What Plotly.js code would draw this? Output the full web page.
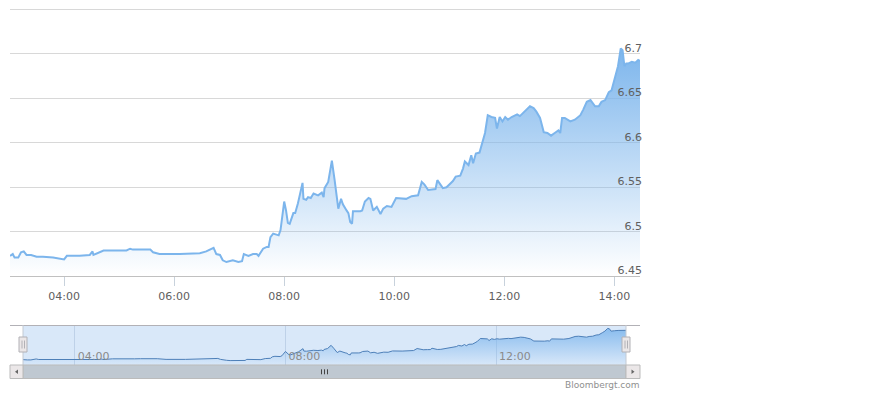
<!DOCTYPE html>
<html>
<head>
<meta charset="utf-8">
<script src="https://cdn.plot.ly/plotly-3.0.1.min.js"></script>
<style>html,body{margin:0;padding:0;background:#fff;}#chart{width:880px;height:393px;}</style>
</head>
<body>
<div id="chart"></div>
<script>
const day = '2019-05-10';
const times = [
'03:01','03:04','03:06','03:10','03:13','03:16','03:19','03:24','03:30','03:37',
'03:48','03:57','04:00','04:03','04:17','04:28','04:31','04:32','04:39','04:43',
'05:08','05:12','05:15','05:34','05:37','05:44','06:06','06:28','06:35','06:43',
'06:46','06:50','06:53','06:57','07:04','07:10','07:14','07:16','07:21','07:26',
'07:30','07:32','07:37','07:41','07:43','07:45','07:48','07:54','07:56','08:00',
'08:02','08:04','08:06','08:10','08:12','08:15','08:20','08:21','08:24','08:26',
'08:29','08:32','08:37','08:41','08:43','08:44','08:48','08:52','08:55','08:59',
'09:02','09:04','09:08','09:10','09:12','09:14','09:15','09:23','09:25','09:28',
'09:32','09:34','09:37','09:41','09:45','09:48','09:52','09:57','10:02','10:13',
'10:19','10:26','10:30','10:33','10:37','10:42','10:45','10:47','10:50','10:53',
'10:57','11:01','11:04','11:07','11:12','11:15','11:17','11:21','11:24','11:26',
'11:29','11:33','11:36','11:39','11:42','11:46','11:50','11:52','11:55','11:58',
'12:01','12:04','12:08','12:14','12:17','12:21','12:24','12:28','12:32','12:35',
'12:39','12:43','12:47','12:51','12:55','12:59','13:01','13:03','13:06','13:12',
'13:17','13:23','13:26','13:30','13:34','13:39','13:43','13:46','13:50','13:54',
'13:57','14:01','14:04','14:07','14:09','14:11','14:13','14:15','14:19','14:23',
'14:26','14:28'
];
const values = [
6.473,6.475,6.471,6.471,6.477,6.478,6.474,6.474,6.472,6.472,
6.471,6.470,6.469,6.473,6.473,6.474,6.478,6.474,6.477,6.479,
6.479,6.481,6.480,6.480,6.477,6.475,6.475,6.476,6.478,6.482,
6.475,6.474,6.468,6.466,6.468,6.466,6.467,6.475,6.473,6.475,
6.475,6.473,6.481,6.483,6.483,6.494,6.498,6.496,6.502,6.534,
6.524,6.510,6.509,6.521,6.521,6.532,6.555,6.537,6.536,6.539,
6.538,6.543,6.541,6.544,6.539,6.549,6.556,6.580,6.558,6.526,
6.537,6.531,6.524,6.521,6.511,6.509,6.523,6.523,6.524,6.534,
6.538,6.537,6.524,6.528,6.520,6.526,6.529,6.528,6.538,6.537,
6.540,6.541,6.556,6.553,6.547,6.548,6.548,6.558,6.553,6.549,
6.550,6.554,6.557,6.562,6.563,6.571,6.579,6.575,6.586,6.577,
6.588,6.589,6.599,6.611,6.631,6.629,6.628,6.616,6.629,6.624,
6.629,6.626,6.629,6.632,6.630,6.634,6.637,6.641,6.639,6.635,
6.628,6.612,6.611,6.608,6.611,6.614,6.611,6.628,6.628,6.624,
6.626,6.631,6.637,6.646,6.648,6.641,6.641,6.646,6.648,6.657,
6.659,6.674,6.686,6.706,6.704,6.686,6.689,6.689,6.691,6.690,
6.693,6.692
];
const yTickVals = [6.45, 6.5, 6.55, 6.6, 6.65, 6.7];
const yTickText = ['6.45', '6.5', '6.55', '6.6', '6.65', '6.7'];
const navTickFormat = '%H:%M';
const creditText = 'Bloombergt.com';

const X = times.map(t => day + ' ' + t);
const W = 880, H = 393;
const px = v => v / W;
const py = v => 1 - v / H;
const yMin = 6.45, yMax = 6.75;
const vMax = Math.max(...values);
const navRange = [6.433, 6.728];

const mainTrace = {
  x: X, y: values, type: 'scatter', mode: 'lines',
  line: {color: '#7cb5ec', width: 2},
  fill: 'tozeroy',
  fillgradient: {type: 'vertical', start: yMin, stop: vMax,
    colorscale: [[0, 'rgba(124,181,236,0)'], [1, 'rgba(124,181,236,1)']]},
  hoverinfo: 'skip', xaxis: 'x', yaxis: 'y'
};
const navTrace = {
  x: X, y: values, type: 'scatter', mode: 'lines',
  line: {color: '#4d7fb8', width: 1},
  fill: 'tozeroy',
  fillgradient: {type: 'vertical', start: navRange[0], stop: vMax,
    colorscale: [[0, 'rgba(124,181,236,0)'], [1, 'rgba(124,181,236,0.85)']]},
  hoverinfo: 'skip', xaxis: 'x2', yaxis: 'y2'
};

function rect(x0, y0, x1, y1, fill, lc, layer) {
  return {type: 'rect', xref: 'paper', yref: 'paper', x0: px(x0), x1: px(x1), y0: py(y1), y1: py(y0),
    fillcolor: fill, line: {color: lc || fill, width: lc ? 1 : 0}, layer: layer || 'above'};
}
function line(x0, y0, x1, y1, c, w, layer) {
  return {type: 'line', xref: 'paper', yref: 'paper', x0: px(x0), x1: px(x1), y0: py(y0), y1: py(y1),
    line: {color: c, width: w || 1}, layer: layer || 'above'};
}
function tri(pts, c) {
  const d = 'M' + pts.map(p => px(p[0]) + ',' + py(p[1])).join('L') + 'Z';
  return {type: 'path', xref: 'paper', yref: 'paper', path: d, fillcolor: c, line: {color: c, width: 0}, layer: 'above'};
}

const shapes = [
  line(10, 9.5, 640, 9.5, '#d8d8d8', 1, 'below'),
  rect(23, 325, 626, 365, 'rgba(128,179,236,0.3)', null, 'below'),
  line(10, 325.5, 640, 325.5, '#b2b1b6'),
  line(23, 325, 23, 365, '#c4cad3'),
  line(626, 325, 626, 365, '#c4cad3'),
  // scrollbar
  rect(10, 365, 640, 378.5, '#eeeeee'),
  rect(23, 365, 626, 378.5, '#bfc8d1', '#bbbbbb'),
  rect(10, 365, 23, 378.5, '#ebe7e8', '#bbbbbb'),
  rect(626, 365, 640, 378.5, '#ebe7e8', '#bbbbbb'),
  tri([[15, 371.7], [18, 369.5], [18, 373.9]], '#666666'),
  tri([[634.5, 371.7], [631.5, 369.5], [631.5, 373.9]], '#666666'),
  line(321.5, 369.3, 321.5, 374.3, '#444444'),
  line(324.5, 369.3, 324.5, 374.3, '#444444'),
  line(327.5, 369.3, 327.5, 374.3, '#444444'),
  // handles
  rect(19, 337, 27, 352, '#ebe7e8', '#b2b1b6'),
  line(22, 340.5, 22, 348.5, '#b2b1b6'),
  line(24.5, 340.5, 24.5, 348.5, '#b2b1b6'),
  rect(622, 337, 630, 352, '#ebe7e8', '#b2b1b6'),
  line(625, 340.5, 625, 348.5, '#b2b1b6'),
  line(627.5, 340.5, 627.5, 348.5, '#b2b1b6')
];

const layout = {
  width: W, height: H,
  margin: {l: 0, r: 0, t: 0, b: 0},
  paper_bgcolor: '#ffffff', plot_bgcolor: 'rgba(0,0,0,0)',
  showlegend: false,
  font: {family: 'DejaVu Sans', size: 11, color: '#606060'},
  xaxis: {
    type: 'date', domain: [px(10), px(640)], anchor: 'y',
    range: [X[0], X[X.length - 1]],
    tick0: day + ' 00:00', dtick: 7200000, tickformat: '%H:%M',
    ticks: 'outside', ticklen: 9, tickcolor: '#c8d2dc', tickwidth: 1,
    showgrid: false, zeroline: false,
    showline: true, linecolor: '#c0c0c0', linewidth: 1,
    tickfont: {family: 'DejaVu Sans', size: 11, color: '#606060'},
    fixedrange: true
  },
  yaxis: {
    domain: [py(276.3), py(9.3)], anchor: 'free', position: px(640), side: 'left',
    range: [yMin, yMax],
    tickvals: yTickVals, ticktext: yTickText,
    ticklabelposition: 'outside top', ticks: '', ticklabelstandoff: -2, ticklabelshift: 2,
    showgrid: true, gridcolor: '#d8d8d8', gridwidth: 1,
    zeroline: false, showline: false,
    tickfont: {family: 'DejaVu Sans', size: 11, color: '#606060'},
    fixedrange: true
  },
  xaxis2: {
    type: 'date', domain: [px(23), px(626)], anchor: 'y2',
    range: [X[0], X[X.length - 1]],
    tick0: day + ' 00:00', dtick: 14400000, tickformat: navTickFormat,
    ticklabelposition: 'inside right', ticks: '', ticklabelshift: 3, ticklabelstandoff: -3,
    showgrid: true, gridcolor: 'rgba(140,165,200,0.35)',
    zeroline: false, showline: false,
    tickfont: {family: 'DejaVu Sans', size: 11, color: '#8a8a8a'},
    fixedrange: true
  },
  yaxis2: {
    domain: [py(365), py(325.5)], anchor: 'x2',
    range: navRange, visible: false, showgrid: false, zeroline: false, fixedrange: true
  },
  shapes: shapes,
  annotations: [{
    xref: 'paper', yref: 'paper', x: px(642), y: py(385), xanchor: 'right', yanchor: 'middle',
    text: creditText, showarrow: false, font: {family: 'DejaVu Sans', size: 9, color: '#909090'}
  }]
};

Plotly.newPlot('chart', [mainTrace, navTrace], layout, {displayModeBar: false, staticPlot: true});
</script>
</body>
</html>
